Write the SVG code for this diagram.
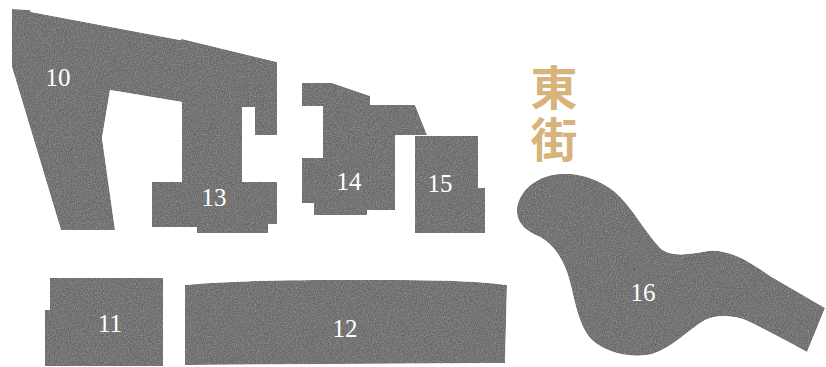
<svg xmlns="http://www.w3.org/2000/svg" width="826" height="367" viewBox="0 0 826 367">
  <style>
    .blk { fill: #6f6f6f; filter: url(#grain); }
    .lbl { font-family: "Liberation Serif", "DejaVu Serif", serif; font-size: 25px; fill: #ffffff; text-anchor: middle; }
    .title { font-family: "Noto Sans CJK SC", "Noto Sans CJK TC", sans-serif; font-size: 47px; font-weight: bold; fill: #d6b47c; writing-mode: vertical-rl; letter-spacing: 5px; }
  </style>
  <defs>
    <filter id="grain" x="0" y="0" width="100%" height="100%" color-interpolation-filters="sRGB">
      <feTurbulence type="fractalNoise" baseFrequency="0.85" numOctaves="2" seed="3" result="n"/>
      <feColorMatrix in="n" type="matrix" values="0 0 0 0 0.62  0 0 0 0 0.62  0 0 0 0 0.62  1.8 0 0 0 -0.8" result="light"/>
      <feColorMatrix in="n" type="matrix" values="0 0 0 0 0.3  0 0 0 0 0.3  0 0 0 0 0.3  -1.8 0 0 0 0.75" result="dark"/>
      <feMerge result="m">
        <feMergeNode in="SourceGraphic"/>
        <feMergeNode in="light"/>
        <feMergeNode in="dark"/>
      </feMerge>
      <feComposite in="m" in2="SourceGraphic" operator="in"/>
    </filter>
  </defs>
  <rect width="826" height="367" fill="#ffffff"/>

  <g id="node-10-13">
    <path class="blk" d="M12,9 L30,10 L31,12 L180,40 L182,39 L277,62 L277,135 L255,135 L255,107 L242,107 L242,182 L277,182 L277,224 L268,224 L268,233 L197,233 L197,227 L152,227 L152,182 L182,182 L182,102 L110,90 L102,138 L115,230 L61,230 L12,67 Z"/>
    <text class="lbl" x="58" y="86">10</text>
    <text class="lbl" x="214" y="206">13</text>
  </g>

  <g id="node-14">
    <path class="blk" d="M302,83 L332,83 L370,96 L370,105 L415,105 L427,135 L395,135 L395,210 L367,210 L367,215 L314,215 L314,203 L302,203 L302,158 L323,158 L323,106 L302,106 Z"/>
    <text class="lbl" x="349" y="190">14</text>
  </g>

  <g id="node-15">
    <path class="blk" d="M415,136 L478,136 L478,188 L485,188 L485,233 L415,233 Z"/>
    <text class="lbl" x="440" y="192">15</text>
  </g>

  <g id="node-11">
    <path class="blk" d="M50,278 L163,278 L163,366 L45,366 L45,310 L50,310 Z"/>
    <text class="lbl" x="110" y="332">11</text>
  </g>

  <g id="node-12">
    <path class="blk" d="M185,285 C240,280 300,280 345,280 C400,280 460,279 507,285 L505,363 L185,365 Z"/>
    <text class="lbl" x="345" y="337">12</text>
  </g>

  <g id="node-16">
    <path class="blk" d="M517,213 C516,198 528,182 548,176 C570,170 595,176 615,192 C632,207 645,232 660,248 C672,258 690,254 708,251 C730,249 750,262 770,276 L825,308 L807,352 C790,343 770,332 750,322 C735,315 718,314 705,320 C688,330 672,348 652,354 C630,359 605,352 592,340 C578,325 575,300 570,282 C565,262 555,245 540,237 C528,232 518,225 517,213 Z"/>
    <text class="lbl" x="643" y="301">16</text>
  </g>

  <g id="title">
    <text class="title" x="554" y="64">東街</text>
  </g>

  <g id="connectors"/>
</svg>
